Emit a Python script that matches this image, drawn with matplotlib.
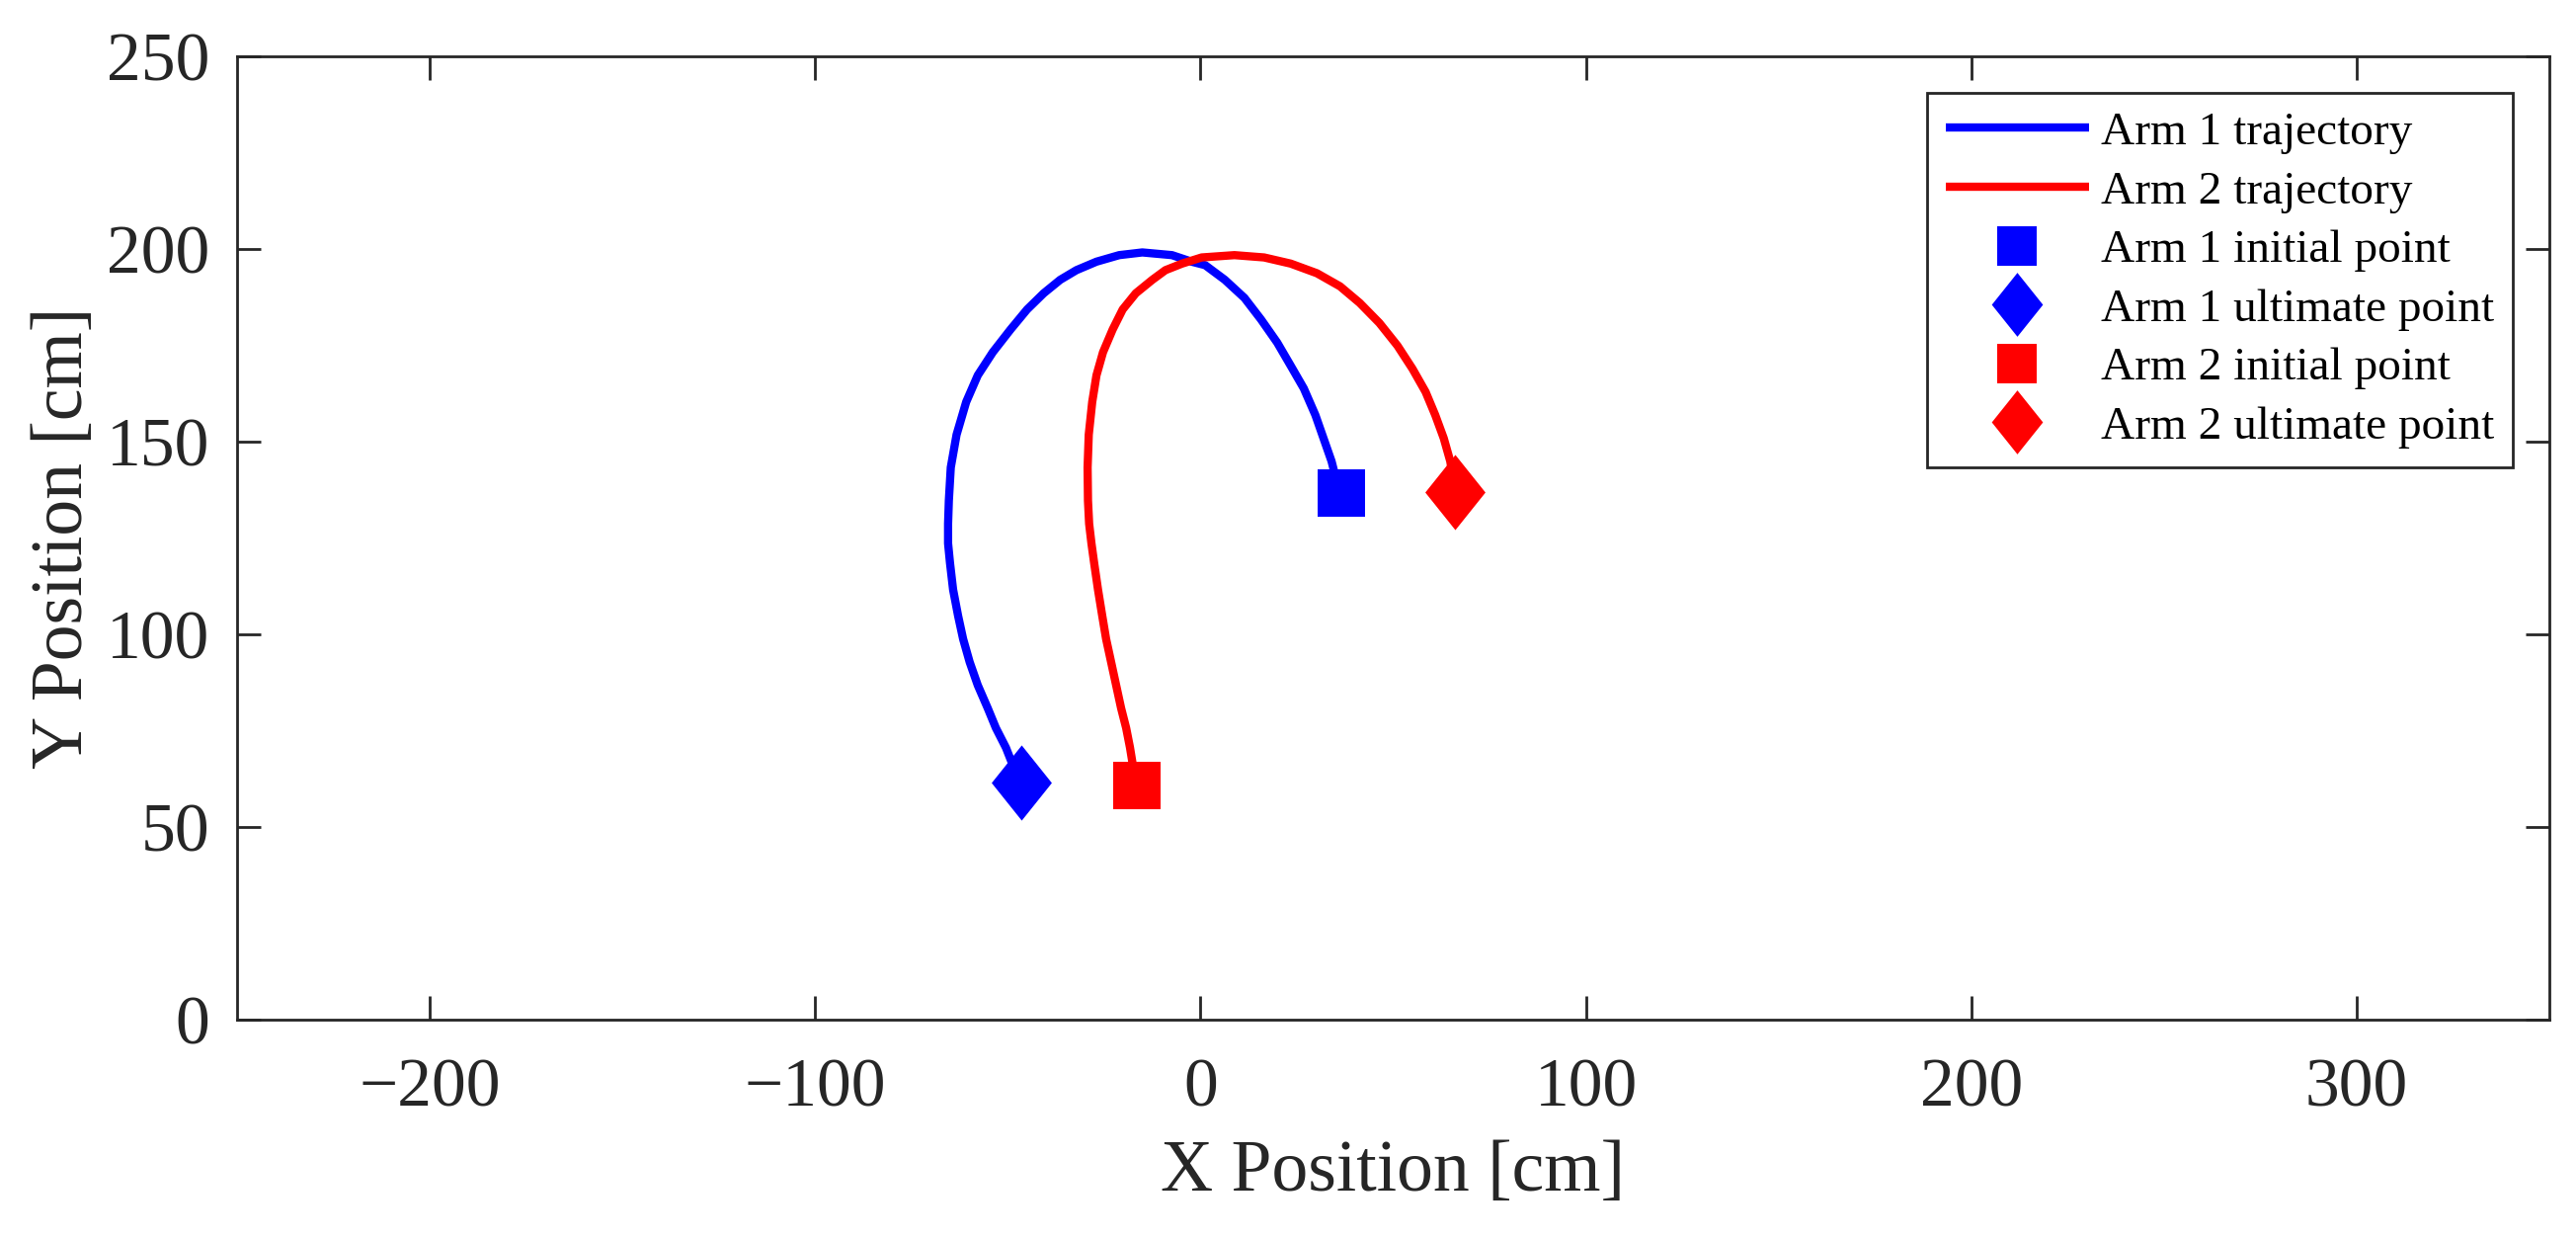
import matplotlib
matplotlib.use('Agg')
import matplotlib.pyplot as plt

# ---- data ----
blue_x = [36.6, 35.3, 34.0, 31.9, 29.8, 26.8, 23.4, 19.9, 15.7, 11.4, 6.3, 1.2, -2.3, -7.4,
          -15.1, -21.1, -27.0, -32.2, -36.4, -40.7, -45.0, -49.3, -53.9, -57.8, -60.8, -63.3,
          -64.8, -65.3, -65.5, -65.5, -65.0, -64.2, -62.9, -61.6, -59.9, -57.8, -55.2, -53.1,
          -50.5, -48.8, -46.6]
blue_y = [136.6, 139.8, 144.9, 150.9, 156.9, 163.8, 169.7, 175.7, 181.7, 187.3, 192.0, 195.8,
          196.7, 198.4, 199.1, 198.4, 196.7, 194.5, 192.0, 188.5, 184.3, 179.1, 173.2, 167.2,
          160.3, 151.8, 143.3, 134.7, 128.7, 123.6, 118.5, 111.6, 104.8, 98.8, 92.8, 86.8,
          80.8, 75.7, 70.6, 66.3, 61.5]

red_x = [-16.5, -17.6, -18.3, -19.3, -20.6, -21.9, -23.2, -24.5, -25.5, -26.6, -27.6, -28.3,
         -28.9, -29.2, -29.3, -29.0, -28.1, -27.0, -25.3, -22.8, -20.2, -16.8, -12.5, -9.1,
         -4.8, 0.3, 8.8, 16.5, 23.4, 30.2, 36.2, 41.3, 46.4, 51.1, 55.0, 58.4, 60.9, 63.1,
         64.8, 66.1]
red_y = [60.7, 66.3, 70.6, 75.7, 80.8, 86.8, 92.8, 98.8, 104.8, 111.6, 118.5, 123.6,
         128.7, 134.7, 143.3, 151.8, 160.3, 167.2, 173.2, 179.1, 184.3, 188.5, 192.0, 194.5,
         196.2, 197.8, 198.4, 197.8, 196.2, 193.7, 190.3, 186.0, 180.8, 174.9, 168.9, 162.9,
         156.9, 150.9, 144.9, 136.8]

arm1_initial = (36.6, 136.6)
arm1_ultimate = (-46.6, 61.5)
arm2_initial = (-16.5, 60.7)
arm2_ultimate = (66.1, 136.8)

labels = ["Arm 1 trajectory", "Arm 2 trajectory", "Arm 1 initial point",
          "Arm 1 ultimate point", "Arm 2 initial point", "Arm 2 ultimate point"]
xticks = [-200, -100, 0, 100, 200, 300]
yticks = [0, 50, 100, 150, 200, 250]

# ---- style ----
plt.rcParams['font.family'] = ['Liberation Serif', 'DejaVu Serif']
dark = '#262626'

fig = plt.figure(figsize=(13.04, 6.275), dpi=200)
ax = fig.add_axes([0.0920, 0.1777, 0.8977, 0.7769])

lw = 3.0
ax.plot(blue_x, blue_y, color=(0, 0, 1), lw=lw, label=labels[0],
        solid_capstyle='butt', solid_joinstyle='round')
ax.plot(red_x, red_y, color=(1, 0, 0), lw=lw, label=labels[1],
        solid_capstyle='butt', solid_joinstyle='round')

diamond = [(0, 1), (0.8, 0), (0, -1), (-0.8, 0)]
ax.plot([arm1_initial[0]], [arm1_initial[1]], ls='none', marker='s', ms=17,
        color=(0, 0, 1), mec=(0, 0, 1), mew=0, label=labels[2])
ax.plot([arm1_ultimate[0]], [arm1_ultimate[1]], ls='none', marker=diamond, ms=27.4,
        color=(0, 0, 1), mec=(0, 0, 1), mew=0, label=labels[3])
ax.plot([arm2_initial[0]], [arm2_initial[1]], ls='none', marker='s', ms=17,
        color=(1, 0, 0), mec=(1, 0, 0), mew=0, label=labels[4])
ax.plot([arm2_ultimate[0]], [arm2_ultimate[1]], ls='none', marker=diamond, ms=27.4,
        color=(1, 0, 0), mec=(1, 0, 0), mew=0, label=labels[5])

ax.set_xlim(-250, 350)
ax.set_ylim(0, 250)
ax.set_xticks(xticks)
ax.set_yticks(yticks)

for s in ax.spines.values():
    s.set_linewidth(1.0)
    s.set_color(dark)

ax.tick_params(axis='both', which='major', direction='in', length=8.5, width=1.0,
               color=dark, labelcolor=dark, labelsize=25, top=True, right=True)
ax.tick_params(axis='x', pad=14)
ax.tick_params(axis='y', pad=10)

ax.set_xlabel("X Position [cm]", fontsize=26.5, color=dark, labelpad=7)
ax.set_ylabel("Y Position [cm]", fontsize=26.5, color=dark, labelpad=3)

leg = ax.legend(loc='upper right', bbox_to_anchor=(0.9842, 0.962), borderaxespad=0,
                fontsize=17, frameon=True, fancybox=False, shadow=False, framealpha=1,
                edgecolor=dark, handlelength=3.08, handletextpad=0.25, labelspacing=0.35,
                borderpad=0.4, markerscale=0.85)
leg.get_frame().set_linewidth(1.0)
for t in leg.get_texts():
    t.set_color('black')

fig.savefig('out.png', dpi=200, facecolor='white')
